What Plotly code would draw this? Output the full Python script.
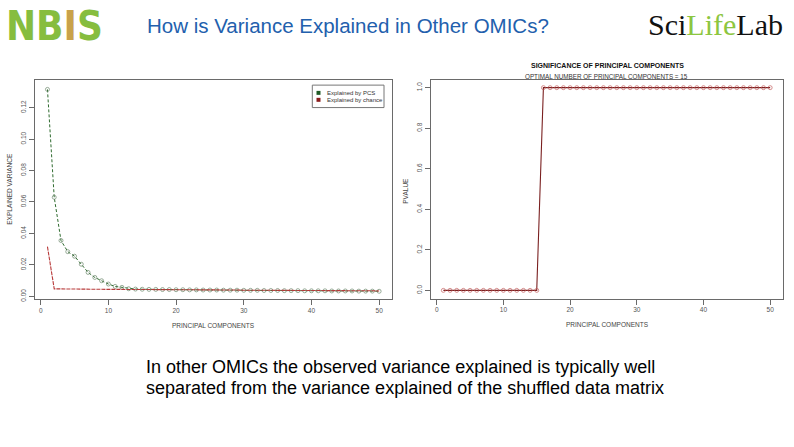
import plotly.graph_objects as go

W, H = 794, 447

# ---------------- data ----------------
pcs = list(range(1, 51))

explained_by_pcs = [
    0.1316, 0.0630, 0.0355, 0.0284, 0.0255, 0.0204, 0.0152, 0.0120, 0.0099, 0.0078,
    0.0063, 0.0057, 0.0048, 0.0046, 0.0045, 0.0044, 0.0044, 0.0043, 0.0043, 0.0042,
    0.0042, 0.0041, 0.0041, 0.0040, 0.0040, 0.0040, 0.0039, 0.0039, 0.0039, 0.0038,
    0.0038, 0.0038, 0.0037, 0.0037, 0.0037, 0.0036, 0.0036, 0.0036, 0.0035, 0.0035,
    0.0035, 0.0035, 0.0034, 0.0034, 0.0034, 0.0034, 0.0033, 0.0033, 0.0033, 0.0032,
]

explained_by_chance = [
    0.0316, 0.0047, 0.0047, 0.0046, 0.0046, 0.0046, 0.0045, 0.0045, 0.0045, 0.0044,
    0.0044, 0.0044, 0.0044, 0.0043, 0.0043, 0.0043, 0.0043, 0.0042, 0.0042, 0.0042,
    0.0042, 0.0041, 0.0041, 0.0041, 0.0041, 0.0040, 0.0040, 0.0040, 0.0040, 0.0039,
    0.0039, 0.0039, 0.0039, 0.0038, 0.0038, 0.0038, 0.0038, 0.0037, 0.0037, 0.0037,
    0.0037, 0.0036, 0.0036, 0.0036, 0.0036, 0.0035, 0.0035, 0.0035, 0.0035, 0.0034,
]

pvalues = [
    0, 0, 0, 0, 0, 0, 0, 0, 0, 0, 0, 0, 0, 0, 0,
    1, 1, 1, 1, 1, 1, 1, 1, 1, 1, 1, 1, 1, 1, 1, 1, 1, 1, 1, 1,
    1, 1, 1, 1, 1, 1, 1, 1, 1, 1, 1, 1, 1, 1, 1,
]

x_ticks = [0, 10, 20, 30, 40, 50]
var_ticks = [0.00, 0.02, 0.04, 0.06, 0.08, 0.10, 0.12]
p_ticks = [0.0, 0.2, 0.4, 0.6, 0.8, 1.0]

legend_labels = ["Explained by PCS", "Explained by chance"]
slide_title = "How is Variance Explained in Other OMICs?"
caption_lines = [
    "In other OMICs the observed variance explained is typically well",
    "separated from the variance explained of the shuffled data matrix",
]

# ---------------- styles ----------------
GREEN = "#2f6b2f"
RED = "#b83a3a"
DARKRED = "#7a2020"
AXCOL = "#6a6a6a"
TXT = "#555555"
FONT = "Liberation Sans, Arial, sans-serif"


def px(x):
    return x / W


def py(y):
    return 1 - y / H


fig = go.Figure()

fig.add_trace(go.Scatter(
    x=pcs, y=explained_by_pcs, mode="lines+markers", xaxis="x", yaxis="y",
    line=dict(color=GREEN, width=1, dash="3px,2px"),
    marker=dict(symbol="circle-open", size=4, color="#6f8a6f", line=dict(width=0.7)),
    showlegend=False,
))
fig.add_trace(go.Scatter(
    x=pcs, y=explained_by_chance, mode="lines", xaxis="x", yaxis="y",
    line=dict(color=RED, width=1.1, dash="4px,1px"),
    showlegend=False,
))
fig.add_trace(go.Scatter(
    x=pcs, y=pvalues, mode="lines+markers", xaxis="x2", yaxis="y2",
    line=dict(color=DARKRED, width=1.1),
    marker=dict(symbol="circle-open", size=4, color="#c46060", line=dict(width=0.7)),
    showlegend=False,
))

axis_common = dict(
    showline=True, mirror=True, linecolor=AXCOL, linewidth=1,
    ticks="outside", ticklen=5, tickcolor=AXCOL, tickwidth=1,
    tickfont=dict(size=6.5, color=TXT, family=FONT),
    showgrid=False, zeroline=False,
)

fig.update_layout(
    width=W, height=H,
    margin=dict(l=0, r=0, t=0, b=0),
    paper_bgcolor="white", plot_bgcolor="white",
    font=dict(family=FONT),
    xaxis=dict(domain=[px(35), px(392)], range=[-0.84, 51.9], anchor="y",
               tickvals=x_ticks, **axis_common),
    yaxis=dict(domain=[py(301), py(81)], range=[-0.0017, 0.1373], anchor="x",
               tickvals=var_ticks, tickformat=".2f", tickangle=-90, **axis_common),
    xaxis2=dict(domain=[px(430.7), px(783.3)], range=[-0.9, 51.97], anchor="y2",
                tickvals=x_ticks, **axis_common),
    yaxis2=dict(domain=[py(300.7), py(80.7)], range=[-0.041, 1.037], anchor="x2",
                tickvals=p_ticks, tickformat=".1f", tickangle=-90, **axis_common),
)

ann = []
small = dict(size=6.5, color="#444444", family=FONT)
ann.append(dict(text="EXPLAINED VARIANCE", x=px(10), y=py(190), textangle=-90, font=small))
ann.append(dict(text="PRINCIPAL COMPONENTS", x=px(213), y=py(328), font=small))
ann.append(dict(text="PVALUE", x=px(406), y=py(192), textangle=-90, font=small))
ann.append(dict(text="PRINCIPAL COMPONENTS", x=px(607), y=py(327), font=small))
ann.append(dict(text="<b>SIGNIFICANCE OF PRINCIPAL COMPONENTS</b>", x=px(607), y=py(65.5),
                font=dict(size=7, color="#111111", family=FONT)))
ann.append(dict(text="OPTIMAL NUMBER OF PRINCIPAL COMPONENTS = 15", x=px(606), y=py(77),
                font=dict(size=6.3, color="#333333", family=FONT)))

# legend (left chart)
ann.append(dict(text=legend_labels[0], x=px(325), y=py(93.5), xanchor="left",
                font=dict(size=6, color="#333333", family=FONT)))
ann.append(dict(text=legend_labels[1], x=px(325), y=py(100.5), xanchor="left",
                font=dict(size=6, color="#333333", family=FONT)))

# slide header and caption
ann.append(dict(text=slide_title, x=px(145), y=py(26), xanchor="left",
                font=dict(size=20.5, color="#2260ad", family=FONT)))
ann.append(dict(text=caption_lines[0], x=px(144), y=py(369.5), xanchor="left",
                font=dict(size=18, color="#000000", family=FONT)))
ann.append(dict(text=caption_lines[1], x=px(144), y=py(390.5), xanchor="left",
                font=dict(size=18, color="#000000", family=FONT)))

# logos as text
ann.append(dict(text="<b>NB<span style='color:#c9a24a'>I</span>S</b>", x=px(4), y=py(26),
                xanchor="left",
                font=dict(size=40, color="#86bd3f",
                          family="Liberation Sans Narrow, Arial Narrow, DejaVu Sans Condensed, sans-serif")))
ann.append(dict(text="Sci<span style='color:#8dc63f'>Life</span>Lab", x=px(715), y=py(25),
                xanchor="center",
                font=dict(size=30, color="#111111", family="Liberation Serif, Times New Roman, serif")))

for a in ann:
    a.setdefault("xref", "paper")
    a.setdefault("yref", "paper")
    a.setdefault("showarrow", False)
    a.setdefault("xanchor", "center")
    a.setdefault("yanchor", "middle")
fig.update_layout(annotations=ann)

shapes = [
    dict(type="rect", xref="paper", yref="paper", x0=px(312.3), x1=px(384), y0=py(108.3), y1=py(85.7),
         line=dict(color="#777777", width=1), fillcolor="rgba(0,0,0,0)"),
    dict(type="rect", xref="paper", yref="paper", x0=px(316.5), x1=px(320.5), y0=py(95.5), y1=py(91.5),
         line=dict(width=0), fillcolor="#1f5a26"),
    dict(type="rect", xref="paper", yref="paper", x0=px(316.5), x1=px(320.5), y0=py(102.5), y1=py(98.5),
         line=dict(width=0), fillcolor="#8b1c1c"),
]
fig.update_layout(shapes=shapes)

fig.write_html("out.html")
